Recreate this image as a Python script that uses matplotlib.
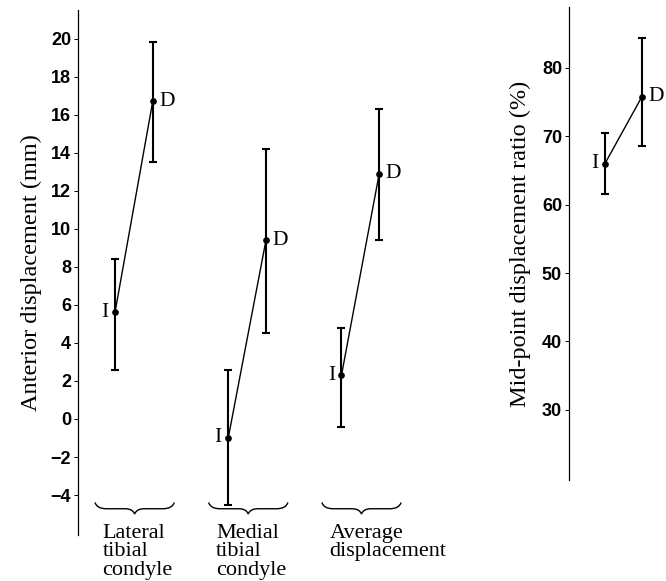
import matplotlib
matplotlib.use("Agg")
import matplotlib.pyplot as plt
from matplotlib.path import Path
from matplotlib.patches import PathPatch
import numpy as np

# ---------------- data ----------------
categories = ["Lateral\ntibial\ncondyle", "Medial\ntibial\ncondyle", "Average\ndisplacement"]
i_mean = [5.6, -1.0, 2.3]
i_upper = [8.4, 2.6, 4.8]
i_lower = [2.6, -4.5, -0.4]
d_mean = [16.7, 9.4, 12.9]
d_upper = [19.8, 14.2, 16.3]
d_lower = [13.5, 4.5, 9.4]
left_ticks = [-4, -2, 0, 2, 4, 6, 8, 10, 12, 14, 16, 18, 20]
left_ticklabels = ["\u22124", "\u22122", "0", "2", "4", "6", "8", "10", "12", "14", "16", "18", "20"]

ratio_mean = [66.0, 75.8]
ratio_upper = [70.5, 84.4]
ratio_lower = [61.5, 68.6]
right_ticks = [30, 40, 50, 60, 70, 80]

serif = ["Liberation Serif", "DejaVu Serif"]
tickfont = dict(family=["Liberation Sans Narrow", "Liberation Sans", "DejaVu Sans"],
                weight="bold", size=13)

W, H = 666, 581
fig = plt.figure(figsize=(W / 100, H / 100), dpi=100)

def draw_pairs(ax, xi, xd, im, iu, il, dm, du, dl, lbl_size=15.5):
    ax.plot([xi, xd], [im, dm], color="black", lw=1.0, zorder=2)
    for x, m, u, l in ((xi, im, iu, il), (xd, dm, du, dl)):
        ax.errorbar([x], [m], yerr=[[m - l], [u - m]], fmt="o", color="black",
                    ms=3.8, elinewidth=1.5, capsize=3.2, capthick=1.5, zorder=3)
    ax.text(xi - 0.17, im, "I", ha="right", va="center", fontsize=lbl_size, family=serif)
    ax.text(xd + 0.17, dm, "D", ha="left", va="center", fontsize=lbl_size, family=serif)

# ---------------- left axes ----------------
axL = fig.add_axes([78 / W, 1 - 535 / H, 342 / W, 525 / H])
axL.set_xlim(-0.98, 8.08)
axL.set_ylim(-6.1, 21.5)
pos_i = [0, 3, 6]
pos_d = [1, 4, 7]
for k in range(3):
    draw_pairs(axL, pos_i[k], pos_d[k], i_mean[k], i_upper[k], i_lower[k],
               d_mean[k], d_upper[k], d_lower[k])

for s in ("top", "right", "bottom"):
    axL.spines[s].set_visible(False)
axL.spines["left"].set_linewidth(0.9)
axL.set_xticks([])
axL.set_yticks(left_ticks)
axL.set_yticklabels(left_ticklabels, fontdict=tickfont)
axL.tick_params(axis="y", length=3, width=0.7, pad=2)
axL.set_ylabel("Anterior displacement (mm)", fontsize=17.5, family=serif, labelpad=6)

# braces and category labels
def brace(ax, x0, x1, y, h):
    xm = (x0 + x1) / 2
    verts = [(x0, y + h * 0.6), (x0 + 0.05, y), (x0 + 0.3, y),
             (xm - 0.25, y), (xm - 0.05, y), (xm, y - h * 0.5),
             (xm + 0.05, y), (xm + 0.25, y),
             (x1 - 0.3, y), (x1 - 0.05, y), (x1, y + h * 0.6)]
    codes = [Path.MOVETO, Path.CURVE3, Path.CURVE3,
             Path.LINETO, Path.CURVE3, Path.CURVE3,
             Path.CURVE3, Path.CURVE3,
             Path.LINETO, Path.CURVE3, Path.CURVE3]
    ax.add_patch(PathPatch(Path(verts, codes), fill=False, lw=1.0, color="black",
                           clip_on=False))

brace_left = [-0.53, 2.48, 5.48]
for k in range(3):
    brace(axL, brace_left[k], brace_left[k] + 2.1, -4.72, 0.55)
    axL.text(brace_left[k] + 0.2, -5.5, categories[k], ha="left", va="top",
             fontsize=16, family=serif, linespacing=0.98, clip_on=False)

# ---------------- right axes ----------------
axR = fig.add_axes([569 / W, 1 - 480 / H, 90 / W, 473 / H])
axR.set_xlim(-0.97, 1.46)
axR.set_ylim(19.75, 88.9)
draw_pairs(axR, 0, 1, ratio_mean[0], ratio_upper[0], ratio_lower[0],
           ratio_mean[1], ratio_upper[1], ratio_lower[1])
for s in ("top", "right", "bottom"):
    axR.spines[s].set_visible(False)
axR.spines["left"].set_linewidth(0.9)
axR.set_xticks([])
axR.set_yticks(right_ticks)
axR.set_yticklabels([str(t) for t in right_ticks], fontdict=tickfont)
axR.tick_params(axis="y", length=3, width=0.7, pad=2)
axR.set_ylabel("Mid-point displacement ratio (%)", fontsize=17.5, family=serif, labelpad=8)

fig.savefig("out.png", dpi=100)
